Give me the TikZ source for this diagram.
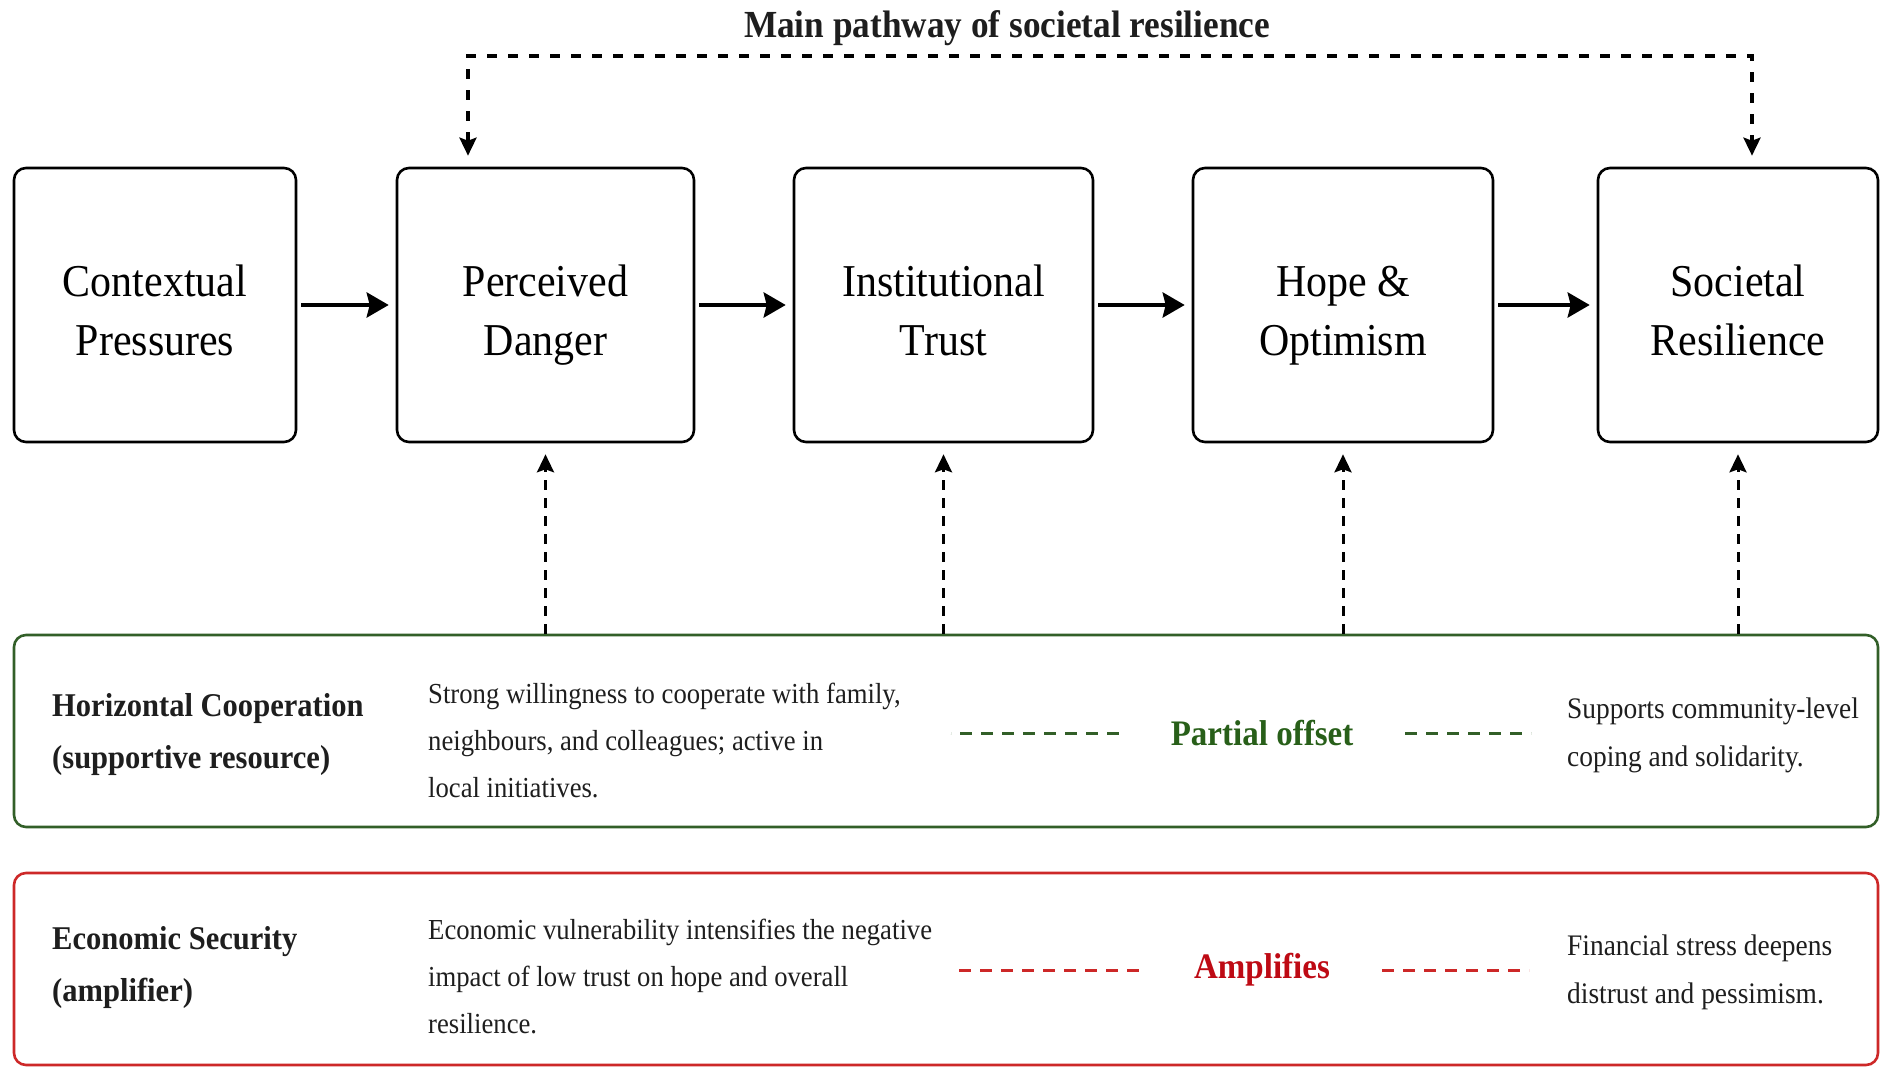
\documentclass[tikz,border=0pt]{standalone}
\usepackage{fontspec}
\setmainfont[FakeStretch=0.92]{Liberation Serif}
\usetikzlibrary{arrows.meta,calc}
\definecolor{gboxc}{RGB}{50,95,40}
\definecolor{gtext}{RGB}{40,95,25}
\definecolor{rboxc}{RGB}{205,40,40}
\definecolor{rtext}{RGB}{190,10,20}
\definecolor{txt}{RGB}{30,30,30}
\newcommand{\topstrut}{\rule{0pt}{54pt}}
\newcommand{\botstrut}{\rule[-12pt]{0pt}{0pt}}
\tikzset{dtip/.tip={Stealth[length=18pt,width=17pt,inset=3pt]}}
\begin{document}
\begin{tikzpicture}[x=1pt,y=-1pt,
  mainbox/.style={draw, line width=2.6pt, rounded corners=12pt, minimum height=274pt,
    align=center, inner sep=0pt, font=\fontsize{45.6}{59}\selectfont},
  panel/.style={draw, line width=2.6pt, rounded corners=12pt, minimum width=1864pt, minimum height=192pt, inner sep=0pt},
  solidarr/.style={line width=4pt, -{Stealth[length=22pt,width=25pt,inset=3pt]}, shorten <=4pt, shorten >=7pt},
  dasharr/.style={line width=3pt, dash pattern=on 10pt off 8pt},
  toparr/.style={line width=3.5pt, dash pattern=on 10pt off 11pt},
  lbl/.style={font=\bfseries\fontsize{33.2}{52}\selectfont, align=left, inner sep=0pt, anchor=west, text=txt},
  desc/.style={font=\fontsize{29}{47}\selectfont, align=left, inner sep=0pt, anchor=west, text=txt},
  rdesc/.style={font=\fontsize{29.8}{48}\selectfont, align=left, inner sep=0pt, anchor=west, text=txt},
  effect/.style={font=\bfseries\fontsize{35.9}{40}\selectfont, inner sep=0pt},
  gdash/.style={draw=gboxc, line width=3pt, dash pattern=on 12pt off 9pt},
  rdash/.style={draw=rboxc, line width=3pt, dash pattern=on 12pt off 9pt}]
\useasboundingbox (0,0) rectangle (1880,1067);

% title
\node[font=\bfseries\fontsize{38.3}{44}\selectfont, text=txt] (title) at (1007,28) {Main pathway of societal resilience};

% main boxes
\node[mainbox, minimum width=282pt] (b1) at (155,305) {\topstrut Contextual\\Pressures\botstrut};
\node[mainbox, minimum width=297pt] (b2) at (545.5,305) {\topstrut Perceived\\Danger\botstrut};
\node[mainbox, minimum width=299pt] (b3) at (943.5,305) {\topstrut Institutional\\Trust\botstrut};
\node[mainbox, minimum width=300pt] (b4) at (1343,305) {\topstrut Hope \&\\Optimism\botstrut};
\node[mainbox, minimum width=280pt] (b5) at (1738,305) {\topstrut Societal\\Resilience\botstrut};

\draw[solidarr] (b1) -- (b2);
\draw[solidarr] (b2) -- (b3);
\draw[solidarr] (b3) -- (b4);
\draw[solidarr] (b4) -- (b5);

% top pathway
\coordinate (tl) at (468,56);
\coordinate (tr) at (1752,56);
\draw[toparr, dtip-dtip] ($(b2.north -| tl)+(0,-11)$) -- (tl) -- (tr) -- ($(b5.north -| tr)+(0,-11)$);

% panels
\node[panel, draw=gboxc] (gbox) at (946,731) {};
\node[panel, draw=rboxc] (rbox) at (946,969) {};

% upward dashed arrows
\draw[dasharr, -dtip] (gbox.north -| b2) -- ($(b2.south)+(0,11)$);
\draw[dasharr, -dtip] (gbox.north -| b3) -- ($(b3.south)+(0,11)$);
\draw[dasharr, -dtip] (gbox.north -| b4) -- ($(b4.south)+(0,11)$);
\draw[dasharr, -dtip] (gbox.north -| b5) -- ($(b5.south)+(0,11)$);

% green panel content
\node[lbl] (hc) at (52,735) {Horizontal Cooperation\\(supportive resource)};
\node[desc] (hcd) at (428,740) {Strong willingness to cooperate with family,\\neighbours, and colleagues; active in\\local initiatives.};
\node[effect, text=gtext] (po) at (1262,733) {Partial offset};
\draw[gdash] ([xshift=-52pt]po.west) -- ++(-168,0);
\draw[gdash] ([xshift=52pt]po.east) -- ++(126,0);
\node[rdesc] (hcr) at (1567,735) {Supports community-level\\coping and solidarity.};

% red panel content
\node[lbl] (es) at (52,968) {Economic Security\\(amplifier)};
\node[desc] (esd) at (428,976) {Economic vulnerability intensifies the negative\\impact of low trust on hope and overall\\resilience.};
\node[effect, text=rtext] (am) at (1262,970) {Amplifies};
\draw[rdash] ([xshift=-55pt]am.west) -- ++(-188,0);
\draw[rdash] ([xshift=52pt]am.east) -- ++(147,0);
\node[rdesc] (esr) at (1567,972) {Financial stress deepens\\distrust and pessimism.};
\end{tikzpicture}
\end{document}
